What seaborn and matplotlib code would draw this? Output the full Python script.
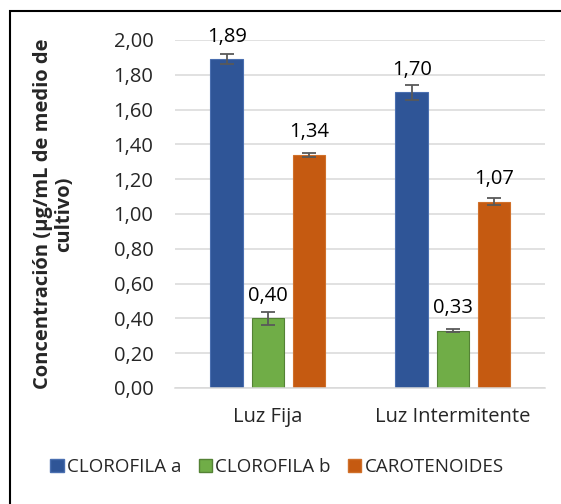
import pandas as pd
import numpy as np
import seaborn as sns
import matplotlib.pyplot as plt
from matplotlib.patches import Rectangle, Patch

# Values
condiciones = ['Luz Fija', 'Luz Intermitente']
pigmentos = ['CLOROFILA a', 'CLOROFILA b', 'CAROTENOIDES']
clorofila_a = [1.89, 1.70]
clorofila_b = [0.40, 0.33]
carotenoides = [1.34, 1.07]
err_clorofila_a = [0.027, 0.044]
err_clorofila_b = [0.037, 0.010]
err_carotenoides = [0.010, 0.020]
yticks = [0.0, 0.2, 0.4, 0.6, 0.8, 1.0, 1.2, 1.4, 1.6, 1.8, 2.0]

colores = ['#2F5597', '#70AD47', '#C55A11']
bordes = ['#4A6FB0', '#548235', '#D0702A']

valores = [clorofila_a, clorofila_b, carotenoides]
errores = [err_clorofila_a, err_clorofila_b, err_carotenoides]

rows = []
for p, vals, errs in zip(pigmentos, valores, errores):
    for c, v, e in zip(condiciones, vals, errs):
        rows.append({'Condicion': c, 'Pigmento': p, 'Valor': v, 'Error': e})
df = pd.DataFrame(rows)

sns.set_style('white')
plt.rcParams['font.family'] = ['Open Sans', 'DejaVu Sans']

fig = plt.figure(figsize=(5.61, 5.04), dpi=100)
ax = fig.add_axes([0.3128, 0.2302, 0.6595, 0.6905])

sns.barplot(data=df, x='Condicion', y='Valor', hue='Pigmento',
            order=condiciones, hue_order=pigmentos, palette=colores,
            saturation=1, errorbar=None, width=0.666, gap=0.2, ax=ax, legend=False)

# error bars and value labels, one container per pigment
bar_containers = list(ax.containers)
for i, cont in enumerate(bar_containers):
    sub = df[df['Pigmento'] == pigmentos[i]].set_index('Condicion').loc[condiciones]
    for bar in cont:
        bar.set_edgecolor(bordes[i])
        bar.set_linewidth(0.8)
    xs = [b.get_x() + b.get_width() / 2 for b in cont]
    ax.errorbar(xs, sub['Valor'], yerr=sub['Error'], fmt='none',
                ecolor='#595959', elinewidth=1.3, capsize=5, capthick=1.3, zorder=5)
    labels = [f'{v:.2f}'.replace('.', ',') for v in sub['Valor']]
    ax.bar_label(cont, labels=labels, padding=9, fontsize=14.5, color='#000000',
                 clip_on=False)

ax.set_ylim(0, 2.0)
ax.set_xlim(-0.5, 1.5)
ax.set_yticks(yticks)
ax.set_yticklabels([f'{t:.2f}'.replace('.', ',') for t in yticks], fontsize=14.5)
ax.tick_params(axis='y', length=0, pad=16)
ax.tick_params(axis='x', length=0, pad=14, labelsize=14.5)
ax.grid(axis='y', color='#D9D9D9', linewidth=1.1)
ax.set_axisbelow(True)
for s in ['top', 'right', 'left']:
    ax.spines[s].set_visible(False)
ax.spines['bottom'].set_color('#D9D9D9')
ax.spines['bottom'].set_linewidth(1.1)
ax.set_xlabel('')
ax.set_ylabel('Concentración (µg/mL de medio de\ncultivo)', fontsize=14.5,
              fontweight='bold', linespacing=1.02)
ax.yaxis.set_label_coords(-0.275, 0.5)

handles = [Patch(facecolor=c, edgecolor=b) for c, b in zip(colores, bordes)]
fig.legend(handles, pigmentos, loc='center', bbox_to_anchor=(0.494, 0.073),
           ncol=3, frameon=False, fontsize=13.5, handlelength=0.7, handleheight=0.7,
           handletextpad=0.2, columnspacing=0.9)

# outer chart frame
fig.add_artist(Rectangle((10 / 561, -0.2), 1.5, 1.2 - 11 / 504, transform=fig.transFigure,
                         fill=False, edgecolor='black', linewidth=1.5, clip_on=False))

fig.savefig('out.png', dpi=100)
